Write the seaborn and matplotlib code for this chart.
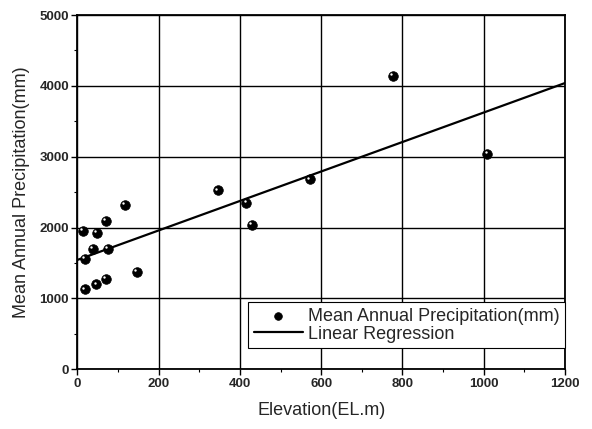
import numpy as np
import pandas as pd
import matplotlib
matplotlib.use("Agg")
import matplotlib.pyplot as plt
import matplotlib.transforms as mtransforms
from matplotlib.ticker import MultipleLocator
import seaborn as sns

elevation = [117, 71, 14, 49, 38, 75, 18, 146, 70, 47, 19,
             345, 416, 429, 573, 777, 1009]
precip = [2315, 2094, 1953, 1930, 1700, 1704, 1563, 1376, 1277, 1197, 1127,
          2526, 2343, 2033, 2681, 4145, 3037]
x_ticks = [0, 200, 400, 600, 800, 1000, 1200]
y_ticks = [0, 1000, 2000, 3000, 4000, 5000]

df = pd.DataFrame({"Elevation": elevation, "Precip": precip})

sns.set_style("white")
plt.rcParams["font.family"] = ["Liberation Sans", "DejaVu Sans"]

fig = plt.figure(figsize=(5.92, 4.29), dpi=100)
ax = fig.add_axes([0.1306, 0.1392, 0.9544 - 0.1306, 0.965 - 0.1392])
ax.set_xlim(0, 1200)
ax.set_ylim(0, 5000)

sns.regplot(data=df, x="Elevation", y="Precip", scatter=False, ci=None,
            truncate=False, color="black", line_kws={"linewidth": 1.6},
            label="Linear Regression", ax=ax)
sns.scatterplot(data=df, x="Elevation", y="Precip", color="black", s=48,
                edgecolor="black", linewidth=0.5, zorder=4,
                label="Mean Annual Precipitation(mm)", ax=ax)
hl = mtransforms.offset_copy(ax.transData, fig=fig, x=-1.8, y=1.8, units="dots")
ax.scatter(df["Elevation"], df["Precip"], s=3, color="white", linewidth=0,
           transform=hl, zorder=5)

ax.set_xlim(0, 1200)
ax.set_ylim(0, 5000)
ax.set_xticks(x_ticks)
ax.set_yticks(y_ticks)
ax.xaxis.set_minor_locator(MultipleLocator(100))
ax.yaxis.set_minor_locator(MultipleLocator(500))
ax.tick_params(axis="both", which="major", direction="out", length=4, width=1,
               labelsize=9.5, color="black", bottom=True, left=True, pad=2)
ax.tick_params(axis="both", which="minor", direction="out", length=2.5, width=0.8,
               color="black", bottom=True, left=True)
for lab in ax.get_xticklabels() + ax.get_yticklabels():
    lab.set_fontweight("bold")

ax.grid(True, which="major", color="black", linewidth=1.0)
ax.set_axisbelow(True)
for sp in ax.spines.values():
    sp.set_visible(True)
    sp.set_color("black")
    sp.set_linewidth(1.3)

ax.set_xlabel("Elevation(EL.m)", fontsize=13, labelpad=9)
ax.set_ylabel("Mean Annual Precipitation(mm)", fontsize=13, labelpad=7)

handles, labels = ax.get_legend_handles_labels()
order = [labels.index("Mean Annual Precipitation(mm)"), labels.index("Linear Regression")]
leg = ax.legend([handles[i] for i in order], [labels[i] for i in order],
                loc="lower right", bbox_to_anchor=(1.0, 0.06), borderaxespad=0,
                fontsize=13, frameon=True, fancybox=False, edgecolor="black",
                framealpha=1, handlelength=2.7, handletextpad=0.3,
                borderpad=0.3, labelspacing=0.05, markerscale=0.8)
leg.get_frame().set_linewidth(0.8)

fig.savefig("out.png", dpi=100)
